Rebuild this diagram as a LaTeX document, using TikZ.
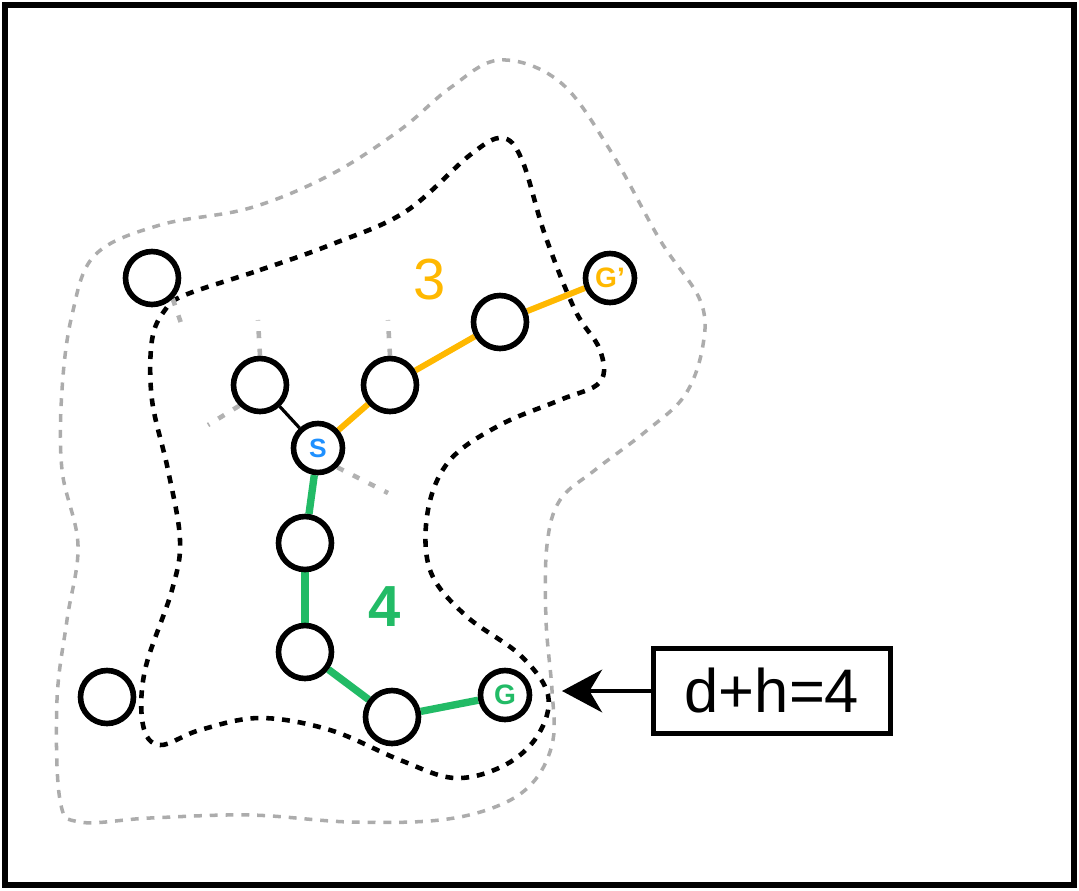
\documentclass[tikz,border=0pt]{standalone}
\usepackage{fontspec}
\setmainfont{Liberation Sans}
\usetikzlibrary{positioning, arrows.meta}
\definecolor{pathorange}{RGB}{255,184,0}
\definecolor{pathgreen}{RGB}{34,187,102}
\definecolor{startblue}{RGB}{30,144,255}
\pgfdeclarelayer{background}
\pgfsetlayers{background,main}

\begin{document}
\begin{tikzpicture}[x=0.02cm, y=-0.02cm,
    vertex/.style={circle, draw, line width=3.2pt, fill=white, minimum size=1.06cm, inner sep=0pt},
    stub/.style={gray!60, dash pattern=on 4pt off 6pt, line width=2.6pt},
    orangeedge/.style={pathorange, line width=3.4pt},
    greenedge/.style={pathgreen, line width=4.2pt}
]
    \useasboundingbox (0,0) rectangle (1079,890);
    \draw[line width=3.4pt] (5,5) rectangle (1074,885);

    % === Sommets ===
    \node[vertex] (tl) at (152,278) {};
    \node[vertex] (a) at (260,385) {};
    \node[vertex] (b) at (390,385) {};
    \node[vertex] (c) at (500,322) {};
    \node[vertex, minimum size=0.98cm, font=\bfseries\fontsize{16}{16}\selectfont, text=pathorange] (gp) at (610,278) {G'};
    \node[vertex, minimum size=0.98cm, font=\bfseries\fontsize{15}{15}\selectfont, text=startblue] (s) at (318,448) {S};
    \node[vertex] (d) at (305,543) {};
    \node[vertex] (e) at (305,652) {};
    \node[vertex] (f) at (392,717) {};
    \node[vertex, minimum size=0.98cm, font=\bfseries\fontsize{16}{16}\selectfont, text=pathgreen] (g) at (505,695) {G};
    \node[vertex] (bl) at (107,697) {};

    \begin{pgfonlayer}{background}
    % === Frontières ===
    \draw[gray!65, line width=2pt, dash pattern=on 4.5pt off 4.5pt] plot[smooth cycle, tension=0.6] coordinates {
        (500,60) (560,82) (610,150) (660,240) (700,300) (703,345) (685,395)
        (645,432) (595,470) (560,500) (547,545) (546,620) (552,690) (553,740)
        (535,780) (500,805) (440,820) (350,822) (250,815) (150,818) (80,822)
        (60,800) (57,700) (67,620) (78,545) (62,470) (62,390) (72,315)
        (95,255) (160,225) (250,208) (330,175) (400,130) (450,88)};
    \draw[black, line width=2.6pt, dash pattern=on 4.5pt off 4.5pt] plot[smooth cycle, tension=0.6] coordinates {
        (185,295) (260,270) (330,245) (405,212) (470,155) (502,138) (522,160)
        (545,235) (575,310) (600,350) (600,382) (560,400) (500,425) (450,460)
        (428,510) (430,570) (465,615) (520,655) (548,695) (538,735) (505,765)
        (455,778) (400,760) (330,730) (260,718) (200,730) (160,745) (143,725)
        (145,670) (172,590) (180,540) (168,470) (152,400) (152,340) (165,310)};

    % === Voisins non développés ===
    \coordinate (a-up) at (258,320);
    \coordinate (b-up) at (388,320);
    \coordinate (a-left) at (208,425);
    \coordinate (s-down) at (388,493);
    \coordinate (tl-down) at (184,332);
    \draw[stub] (a.north) -- (a-up);
    \draw[stub] (b.north) -- (b-up);
    \draw[stub] (a.south west) -- (a-left);
    \draw[stub] (s.south east) -- (s-down);
    \draw[stub] (tl.south east) -- (tl-down);

    % === Chemins ===
    \draw[line width=1.8pt] (a) -- (s);
    \draw[orangeedge] (s) -- (b);
    \draw[orangeedge] (b) -- (c);
    \draw[orangeedge] (c) -- (gp);
    \draw[greenedge] (s) -- (d);
    \draw[greenedge] (d) -- (e);
    \draw[greenedge] (e) -- (f);
    \draw[greenedge] (f) -- (g);
    \end{pgfonlayer}

    % === Coûts ===
    \node[font=\fontsize{33}{33}\selectfont, text=pathorange] (cost3) at (430,280) {3};
    \node[font=\bfseries\fontsize{33}{33}\selectfont, text=pathgreen] (cost4) at (385,607) {4};

    % === Étiquette ===
    \node[draw, line width=2.8pt, minimum width=4.75cm, minimum height=1.7cm, font=\fontsize{35}{35}\selectfont] (lbl) at (772,691) {d+h=4};
    \coordinate (tip) at (562,691);
    \draw[-{Stealth[length=0.8cm, width=0.85cm, inset=0.25cm]}, line width=2.8pt] (lbl.west) -- (tip);
\end{tikzpicture}
\end{document}
